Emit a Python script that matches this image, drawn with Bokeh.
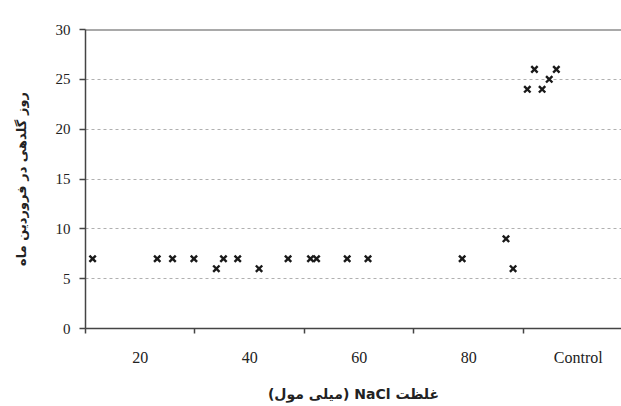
from bokeh.plotting import figure
from bokeh.models import FixedTicker, Range1d, Span
from bokeh.embed import file_html
from bokeh.resources import INLINE

# Data (x in NaCl units; categories 20/40/60/80/Control spaced every 20)
nacl = [11.3, 23.1, 25.9, 29.8, 33.9, 35.2, 37.8, 41.7, 47.0, 51.1, 52.2,
        57.8, 61.6, 78.8, 86.8, 88.1, 90.7, 92.0, 93.4, 94.7, 96.0]
days = [7, 7, 7, 7, 6, 7, 7, 6, 7, 7, 7,
        7, 7, 7, 9, 6, 24, 26, 24, 25, 26]
x_label_pos = [20, 40, 60, 80, 100]
x_label_txt = ["20", "40", "60", "80", "Control"]
x_bounds = [10, 30, 50, 70, 90]
y_ticks = [0, 5, 10, 15, 20, 25, 30]
grid_ticks = [5, 10, 15, 20, 25]

p = figure(width=621, height=406, output_backend="svg", toolbar_location=None,
           x_range=Range1d(10, 107.9), y_range=Range1d(0, 30),
           min_border_left=85, min_border_right=0, min_border_top=29,
           min_border_bottom=78)
p.background_fill_color = "white"
p.border_fill_color = "white"
p.outline_line_color = None

p.scatter(nacl, days, marker="x", size=9, line_width=2.4, line_color="#1a1a1a")

top = Span(location=30, dimension="width", line_color="#555555", line_width=2)
p.add_layout(top)

# x axis
xa = p.xaxis[0]
xa.ticker = FixedTicker(ticks=x_label_pos, minor_ticks=x_bounds)
xa.major_label_overrides = {v: t for v, t in zip(x_label_pos, x_label_txt)}
xa.major_tick_out = 0
xa.major_tick_in = 0
xa.minor_tick_out = 5
xa.minor_tick_in = 0
xa.minor_tick_line_color = "#444444"
xa.minor_tick_line_width = 1.5
xa.axis_line_color = "#444444"
xa.axis_line_width = 1.5
xa.major_label_standoff = 15
xa.major_label_text_font = "Liberation Serif"
xa.major_label_text_font_size = "16px"
xa.major_label_text_color = "#222222"
xa.axis_label = "\u202b" + "غلظت NaCl (میلی مول)" + "\u202c"
xa.axis_label_text_font = "DejaVu Sans"
xa.axis_label_text_font_style = "bold"
xa.axis_label_text_font_size = "14px"
xa.axis_label_text_color = "#222222"
xa.axis_label_standoff = 17

# y axis
ya = p.yaxis[0]
ya.ticker = FixedTicker(ticks=y_ticks)
ya.minor_tick_line_color = None
ya.major_tick_out = 6
ya.major_tick_in = 0
ya.major_tick_line_color = "#444444"
ya.major_tick_line_width = 1.5
ya.axis_line_color = "#444444"
ya.axis_line_width = 1.5
ya.major_label_standoff = 9
ya.major_label_text_font = "Liberation Serif"
ya.major_label_text_font_size = "15px"
ya.major_label_text_color = "#222222"
ya.axis_label = "روز گلدهی در فروردین ماه"
ya.axis_label_text_font = "DejaVu Sans"
ya.axis_label_text_font_style = "bold"
ya.axis_label_text_font_size = "13px"
ya.axis_label_text_color = "#222222"
ya.axis_label_standoff = 24

# grid
p.xgrid.grid_line_color = None
p.ygrid.ticker = FixedTicker(ticks=grid_ticks)
p.ygrid.grid_line_color = "#b0b0b0"
p.ygrid.grid_line_dash = "3 3"
p.ygrid.grid_line_width = 1

open("out.html", "w").write(file_html(p, INLINE))
